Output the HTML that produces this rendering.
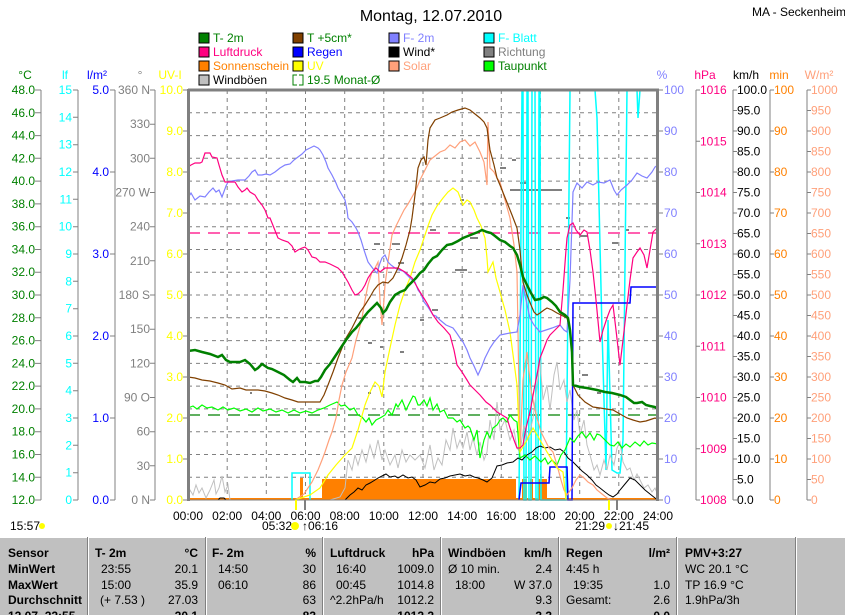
<!DOCTYPE html>
<html><head><meta charset="utf-8"><style>
html,body{margin:0;padding:0;background:#fff;}
svg{display:block;font-family:"Liberation Sans",sans-serif;font-size:12px;}
</style></head><body>
<svg width="845" height="615" viewBox="0 0 845 615" xmlns="http://www.w3.org/2000/svg">
<rect width="845" height="615" fill="#fff"/>
<text x="431" y="21" font-size="16" text-anchor="middle">Montag, 12.07.2010</text>
<text x="752" y="16" font-size="12">MA - Seckenheim</text>
<!-- legend -->
<g font-size="12">
<rect x="199" y="33" width="10" height="10" fill="#008000" stroke="#000"/><text x="213" y="42" fill="#008000">T- 2m</text>
<rect x="293" y="33" width="10" height="10" fill="#804000" stroke="#000"/><text x="307" y="42" fill="#008000">T +5cm*</text>
<rect x="389" y="33" width="10" height="10" fill="#8080ff" stroke="#000"/><text x="403" y="42" fill="#8080ff">F- 2m</text>
<rect x="484" y="33" width="10" height="10" fill="#00ffff" stroke="#000"/><text x="498" y="42" fill="#00ffff">F- Blatt</text>
<rect x="199" y="47" width="10" height="10" fill="#ff0080" stroke="#000"/><text x="213" y="56" fill="#ff0080">Luftdruck</text>
<rect x="293" y="47" width="10" height="10" fill="#0000ff" stroke="#000"/><text x="307" y="56" fill="#0000ff">Regen</text>
<rect x="389" y="47" width="10" height="10" fill="#000" stroke="#000"/><text x="403" y="56" fill="#000">Wind*</text>
<rect x="484" y="47" width="10" height="10" fill="#808080" stroke="#000"/><text x="498" y="56" fill="#808080">Richtung</text>
<rect x="199" y="61" width="10" height="10" fill="#ff8000" stroke="#000"/><text x="213" y="70" fill="#ff8000">Sonnenschein</text>
<rect x="293" y="61" width="10" height="10" fill="#ffff00" stroke="#000"/><text x="307" y="70" fill="#ffff00">UV</text>
<rect x="389" y="61" width="10" height="10" fill="#ffa07a" stroke="#000"/><text x="403" y="70" fill="#ffa07a">Solar</text>
<rect x="484" y="61" width="10" height="10" fill="#00ff00" stroke="#000"/><text x="498" y="70" fill="#008000">Taupunkt</text>
<rect x="199" y="75" width="10" height="10" fill="#c0c0c0" stroke="#000"/><text x="213" y="84" fill="#000">Windböen</text>
<path d="M297 75 H293 V85 H297 M299 75 H303 V85 H299" fill="none" stroke="#008000"/><text x="307" y="84" fill="#008000">19.5 Monat-Ø</text>
</g>
<!-- axis unit labels -->
<g font-size="12">
<text x="25" y="79" text-anchor="middle" fill="#008000">°C</text>
<text x="65" y="79" text-anchor="middle" fill="#00ffff">lf</text>
<text x="97" y="79" text-anchor="middle" fill="#0000ff">l/m²</text>
<text x="140" y="79" text-anchor="middle" fill="#808080">°</text>
<text x="170" y="79" text-anchor="middle" fill="#ffff00">UV-I</text>
<text x="662" y="79" text-anchor="middle" fill="#8080ff">%</text>
<text x="705" y="79" text-anchor="middle" fill="#ff0080">hPa</text>
<text x="746" y="79" text-anchor="middle" fill="#000">km/h</text>
<text x="779" y="79" text-anchor="middle" fill="#ff8000">min</text>
<text x="819" y="79" text-anchor="middle" fill="#ffa07a">W/m²</text>
</g>
<!-- grid -->
<g stroke="#808080" stroke-dasharray="4,4" stroke-width="1">
<path d="M227.2 90V500M266.3 90V500M305.5 90V500M344.7 90V500M383.8 90V500M423 90V500M462.2 90V500M501.3 90V500M540.5 90V500M579.7 90V500M618.8 90V500"/>
<path d="M188 112.8H658M188 135.6H658M188 158.3H658M188 181.1H658M188 203.9H658M188 226.7H658M188 249.5H658M188 272.2H658M188 295H658M188 317.8H658M188 340.6H658M188 363.4H658M188 386.1H658M188 408.9H658M188 431.7H658M188 454.5H658M188 477.3H658"/>
</g>
<!-- axes lines -->
<g stroke="#808080" fill="none">
<path d="M41 90V500M115 90V500M78 90V500M155 90V500M696 90V500M733 90V500M770 90V500M807 90V500"/>
<path d="M35 90h6M35 112.8h6M35 135.6h6M35 158.3h6M35 181.1h6M35 203.9h6M35 226.7h6M35 249.5h6M35 272.2h6M35 295h6M35 317.8h6M35 340.6h6M35 363.4h6M35 386.1h6M35 408.9h6M35 431.7h6M35 454.5h6M35 477.3h6M35 500h6"/>
<path d="M73 90h5M73 117.3h5M73 144.7h5M73 172h5M73 199.3h5M73 226.7h5M73 254h5M73 281.3h5M73 308.7h5M73 336h5M73 363.3h5M73 390.7h5M73 418h5M73 445.3h5M73 472.7h5M73 500h5"/>
<path d="M110 90h5M110 172h5M110 254h5M110 336h5M110 418h5M110 500h5"/>
<path d="M150 90h5M150 124.2h5M150 158.3h5M150 192.5h5M150 226.7h5M150 260.8h5M150 295h5M150 329.2h5M150 363.3h5M150 397.5h5M150 431.7h5M150 465.8h5M150 500h5"/>
<path d="M183 90h5M183 131h5M183 172h5M183 213h5M183 254h5M183 295h5M183 336h5M183 377h5M183 418h5M183 459h5M183 500h5"/>
<path d="M658 90h5M658 131h5M658 172h5M658 213h5M658 254h5M658 295h5M658 336h5M658 377h5M658 418h5M658 459h5M658 500h5"/>
<path d="M696 90h4M696 141.3h4M696 192.5h4M696 243.8h4M696 295h4M696 346.3h4M696 397.5h4M696 448.8h4M696 500h4"/>
<path d="M733 90h4M733 110.5h4M733 131h4M733 151.5h4M733 172h4M733 192.5h4M733 213h4M733 233.5h4M733 254h4M733 274.5h4M733 295h4M733 315.5h4M733 336h4M733 356.5h4M733 377h4M733 397.5h4M733 418h4M733 438.5h4M733 459h4M733 479.5h4M733 500h4"/>
<path d="M770 90h4M770 131h4M770 172h4M770 213h4M770 254h4M770 295h4M770 336h4M770 377h4M770 418h4M770 459h4M770 500h4"/>
<path d="M807 90h4M807 110.5h4M807 131h4M807 151.5h4M807 172h4M807 192.5h4M807 213h4M807 233.5h4M807 254h4M807 274.5h4M807 295h4M807 315.5h4M807 336h4M807 356.5h4M807 377h4M807 397.5h4M807 418h4M807 438.5h4M807 459h4M807 479.5h4M807 500h4"/>
</g>
<!-- left labels -->
<g fill="#008000" text-anchor="end">
<text x="35" y="94">48.0</text><text x="35" y="116.8">46.0</text><text x="35" y="139.6">44.0</text><text x="35" y="162.3">42.0</text><text x="35" y="185.1">40.0</text><text x="35" y="207.9">38.0</text><text x="35" y="230.7">36.0</text><text x="35" y="253.5">34.0</text><text x="35" y="276.2">32.0</text><text x="35" y="299">30.0</text><text x="35" y="321.8">28.0</text><text x="35" y="344.6">26.0</text><text x="35" y="367.4">24.0</text><text x="35" y="390.1">22.0</text><text x="35" y="412.9">20.0</text><text x="35" y="435.7">18.0</text><text x="35" y="458.5">16.0</text><text x="35" y="481.3">14.0</text><text x="35" y="504">12.0</text>
</g>
<g fill="#00ffff" text-anchor="end">
<text x="72" y="94">15</text><text x="72" y="121.3">14</text><text x="72" y="148.7">13</text><text x="72" y="176">12</text><text x="72" y="203.3">11</text><text x="72" y="230.7">10</text><text x="72" y="258">9</text><text x="72" y="285.3">8</text><text x="72" y="312.7">7</text><text x="72" y="340">6</text><text x="72" y="367.3">5</text><text x="72" y="394.7">4</text><text x="72" y="422">3</text><text x="72" y="449.3">2</text><text x="72" y="476.7">1</text><text x="72" y="504">0</text>
</g>
<g fill="#0000ff" text-anchor="end">
<text x="109" y="94">5.0</text><text x="109" y="176">4.0</text><text x="109" y="258">3.0</text><text x="109" y="340">2.0</text><text x="109" y="422">1.0</text><text x="109" y="504">0.0</text>
</g>
<g fill="#808080" text-anchor="end">
<text x="150" y="94">360 N</text><text x="150" y="128.2">330</text><text x="150" y="162.3">300</text><text x="150" y="196.5">270 W</text><text x="150" y="230.7">240</text><text x="150" y="264.8">210</text><text x="150" y="299">180 S</text><text x="150" y="333.2">150</text><text x="150" y="367.3">120</text><text x="150" y="401.5">90 O</text><text x="150" y="435.7">60</text><text x="150" y="469.8">30</text><text x="150" y="504">0 N</text>
</g>
<g fill="#ffff00" text-anchor="end">
<text x="183" y="94">10.0</text><text x="183" y="135">9.0</text><text x="183" y="176">8.0</text><text x="183" y="217">7.0</text><text x="183" y="258">6.0</text><text x="183" y="299">5.0</text><text x="183" y="340">4.0</text><text x="183" y="381">3.0</text><text x="183" y="422">2.0</text><text x="183" y="463">1.0</text><text x="183" y="504">0.0</text>
</g>
<!-- right labels -->
<g fill="#8080ff">
<text x="664" y="94">100</text><text x="664" y="135">90</text><text x="664" y="176">80</text><text x="664" y="217">70</text><text x="664" y="258">60</text><text x="664" y="299">50</text><text x="664" y="340">40</text><text x="664" y="381">30</text><text x="664" y="422">20</text><text x="664" y="463">10</text><text x="664" y="504">0</text>
</g>
<g fill="#ff0080">
<text x="700" y="94">1016</text><text x="700" y="145.3">1015</text><text x="700" y="196.5">1014</text><text x="700" y="247.8">1013</text><text x="700" y="299">1012</text><text x="700" y="350.3">1011</text><text x="700" y="401.5">1010</text><text x="700" y="452.8">1009</text><text x="700" y="504">1008</text>
</g>
<g fill="#000">
<text x="737" y="94">100.0</text><text x="737" y="114.5">95.0</text><text x="737" y="135">90.0</text><text x="737" y="155.5">85.0</text><text x="737" y="176">80.0</text><text x="737" y="196.5">75.0</text><text x="737" y="217">70.0</text><text x="737" y="237.5">65.0</text><text x="737" y="258">60.0</text><text x="737" y="278.5">55.0</text><text x="737" y="299">50.0</text><text x="737" y="319.5">45.0</text><text x="737" y="340">40.0</text><text x="737" y="360.5">35.0</text><text x="737" y="381">30.0</text><text x="737" y="401.5">25.0</text><text x="737" y="422">20.0</text><text x="737" y="442.5">15.0</text><text x="737" y="463">10.0</text><text x="737" y="483.5">5.0</text><text x="737" y="504">0.0</text>
</g>
<g fill="#ff8000">
<text x="774" y="94">100</text><text x="774" y="135">90</text><text x="774" y="176">80</text><text x="774" y="217">70</text><text x="774" y="258">60</text><text x="774" y="299">50</text><text x="774" y="340">40</text><text x="774" y="381">30</text><text x="774" y="422">20</text><text x="774" y="463">10</text><text x="774" y="504">0</text>
</g>
<g fill="#ffa07a">
<text x="811" y="94">1000</text><text x="811" y="114.5">950</text><text x="811" y="135">900</text><text x="811" y="155.5">850</text><text x="811" y="176">800</text><text x="811" y="196.5">750</text><text x="811" y="217">700</text><text x="811" y="237.5">650</text><text x="811" y="258">600</text><text x="811" y="278.5">550</text><text x="811" y="299">500</text><text x="811" y="319.5">450</text><text x="811" y="340">400</text><text x="811" y="360.5">350</text><text x="811" y="381">300</text><text x="811" y="401.5">250</text><text x="811" y="422">200</text><text x="811" y="442.5">150</text><text x="811" y="463">100</text><text x="811" y="483.5">50</text><text x="811" y="504">0</text>
</g>
<!-- sunshine -->
<g fill="#ff8000">
<rect x="322" y="479" width="194" height="21"/>
<rect x="300" y="478" width="3" height="22"/>
<rect x="522" y="479" width="5" height="21"/><rect x="530" y="479" width="3" height="21"/><rect x="538" y="479" width="9" height="21"/>
<rect x="188" y="498" width="470" height="2"/>
</g>
<!-- dashed reference lines -->
<path d="M188 233H658" stroke="#ff0080" stroke-dasharray="12,8" stroke-width="1.3"/>
<path d="M188 415H658" stroke="#008000" stroke-dasharray="12,8" stroke-width="1.3"/>
<!-- Richtung dashes -->
<g stroke="#808080" stroke-width="2">
<path d="M374 244h6M392 244h8M368 343h4M380 347h3M400 352h4M398 263h6M358 318h4M420 320h4M432 310h6M455 270h12M470 238h8M510 190h52M500 168h6M520 183h8M430 230h6M460 200h4M512 160h4M566 218h4M580 236h8M582 375h6M597 393h4M612 243h6M625 230h4M250 393h2M368 393h3"/>
</g>
<!-- cyan F-Blatt -->
<polyline fill="none" stroke="#00ffff" stroke-width="1.5" points="292,500 292,473 310,473 310,500"/>
<polyline fill="none" stroke="#00ffff" stroke-width="1.5" points="519,500 522,90 523,90 524,500 526,500 527,90 528,90 529,500 531,500 532,90 535,90 536,500 538,500 539,90 540,90 541,500 566,500 570,90 595,90 597,118 602,330 606,470 608,320 612,470 617,473 620,473 623,440 627,90 637,90 638,118 640,90 658,90"/>
<!-- gray Windböen -->
<polyline fill="none" stroke="#c0c0c0" stroke-width="1" points="188,500 190,490 193,495 196,485 199,493 202,488 206,498 210,490 214,480 216,494 219,488 222,476 225,492 228,485 230,500 330,500 340,497 345,488 348,460 352,470 355,455 358,465 362,450 366,462 370,445 374,458 378,440 382,460 385,450 390,465 395,455 398,468 402,450 406,462 410,455 415,460 420,455 425,468 430,445 434,470 438,458 442,465 446,440 450,450 453,428 457,448 460,440 463,448 467,432 470,450 473,438 477,455 480,442 484,460 487,452 490,420 494,440 497,402 500,430 505,420 510,440 514,430 517,448 520,452 524,425 528,440 533,418 536,395 540,360 543,400 547,385 550,410 554,375 557,362 560,390 564,380 567,402 570,390 574,420 577,410 580,435 584,420 587,445 590,455 594,470 597,465 600,475 604,460 607,470 610,455 614,465 617,448 620,442 623,462 627,470 630,468 634,480 637,474 640,480 644,488 648,485 652,492 655,488 658,495"/>
<!-- black wind -->
<polyline fill="none" stroke="#000" stroke-width="1" points="188,500 218,500 220,498 224,498 226,500 345,500 350,495 354,492 358,488 362,490 366,485 370,483 375,480 378,478 382,476 386,474 390,477 395,476 398,478 403,475 408,478 412,477 416,480 420,487 425,485 430,482 435,483 440,479 445,478 450,476 455,475 460,474 465,476 470,475 474,477 478,478 483,480 487,482 492,478 497,466 502,465 507,463 513,462 518,458 522,460 527,455 532,452 536,448 540,446 545,448 550,447 555,450 560,449 564,452 568,458 573,462 578,467 582,471 587,475 592,480 596,485 600,488 605,492 609,495 613,497 617,494 620,490 625,484 630,478 635,480 640,485 645,490 650,494 655,498 658,500"/>
<!-- Regen blue -->
<polyline fill="none" stroke="#0000ff" stroke-width="1.5" points="519,500 521,483 549,483 550,467 567,467 568,500 572,500 573,303 630,303 631,287 658,287"/>
<!-- Taupunkt green -->
<polyline fill="none" stroke="#00ff00" stroke-width="1.2" points="188,408 193,406 197,409 202,405 207,408 212,407 218,410 223,407 228,410 234,408 240,411 246,409 252,412 258,408 263,411 270,409 276,412 282,410 288,413 294,410 300,413 306,411 312,413 318,410 324,408 330,405 337,402 341,406 345,405 350,410 354,408 358,415 362,417 366,422 369,418 372,425 376,420 380,418 385,415 388,410 392,415 396,404 398,407 402,400 406,410 410,402 413,396 415,397 418,405 420,405 424,400 427,406 430,398 433,410 437,404 440,412 444,410 448,418 453,418 457,422 460,420 465,428 468,426 470,428 474,440 477,430 480,458 484,440 487,432 490,438 493,428 497,425 500,420 503,418 507,422 510,415 514,420 517,422 520,458 525,455 530,460 535,456 537,458 541,462 545,458 548,464 552,460 557,465 561,455 565,450 570,438 574,442 578,436 582,432 586,438 590,433 594,440 597,434 600,435 605,440 610,445 614,446 618,442 622,448 626,444 630,447 635,442 640,446 644,441 648,445 652,443 658,444"/>
<!-- Solar -->
<polyline fill="none" stroke="#ffa07a" stroke-width="1.2" points="295,500 304,494 312,482 318,470 322,460 325,452 329,440 332,432 336,418 339,400 342,385 346,372 349,365 352,358 356,340 359,330 362,318 365,300 368,285 372,272 375,268 378,262 380,300 382,325 384,300 385,285 388,262 392,235 396,226 400,218 404,210 408,204 412,197 416,190 420,180 425,170 430,160 435,156 440,152 445,150 450,145 455,148 460,142 465,140 470,146 475,142 480,152 484,162 487,185 488,122 490,168 494,172 497,178 500,182 505,200 510,218 514,245 517,272 520,452 523,380 527,352 531,390 534,405 537,418 541,432 545,440 549,448 553,452 557,465 561,480 564,490 567,495 572,488 576,480 580,475 584,478 588,482 593,485 597,490 602,494 607,498 612,500"/>
<!-- UV yellow -->
<polyline fill="none" stroke="#ffff00" stroke-width="1.2" points="295,500 310,495 320,488 328,475 336,465 344,456 352,448 358,430 365,405 370,392 375,382 379,386 382,397 385,372 390,348 395,325 400,305 405,290 410,278 415,262 420,250 424,238 428,226 432,215 437,206 443,198 448,192 453,188 458,192 463,205 467,200 470,202 474,210 477,218 481,226 485,238 487,258 488,272 491,266 493,262 496,278 500,292 505,310 510,332 514,362 517,385 520,452 527,440 533,428 540,440 547,452 552,460 557,468 563,472 566,500"/>
<!-- F-2m -->
<polyline fill="none" stroke="#8080ff" stroke-width="1.2" points="188,198 191,193 195,200 200,196 205,197 209,192 213,188 216,192 219,190 222,197 226,186 228,182 232,181 238,180 245,180 249,176 252,172 255,170 258,175 262,175 266,174 270,175 275,172 280,168 285,165 290,164 294,160 298,157 302,154 306,150 310,148 314,146 318,148 320,150 323,155 326,162 328,168 332,175 336,183 338,188 342,195 345,200 347,210 348,218 352,222 356,228 358,232 361,240 364,250 366,256 368,262 371,266 374,270 377,273 380,263 382,258 385,255 388,262 391,265 395,268 399,270 403,271 405,273 408,276 412,280 415,282 418,290 421,294 424,302 428,307 433,315 436,316 440,320 446,325 453,328 456,332 460,338 463,342 467,350 470,358 474,366 478,375 482,366 485,358 490,348 494,342 500,335 505,334 510,333 517,332 520,315 523,285 526,300 530,318 534,325 540,332 546,330 552,328 560,325 564,330 567,332 570,280 573,192 577,183 582,188 587,182 593,185 598,182 604,183 610,180 614,190 617,195 621,190 627,185 632,180 637,173 642,176 647,178 652,172 655,167 658,165"/>
<!-- Luftdruck -->
<polyline fill="none" stroke="#ff0080" stroke-width="1.2" points="188,167 191,165 195,163 200,163 202,162 205,153 210,153 212,157 217,158 219,165 222,175 225,182 230,182 235,182 238,187 242,192 245,190 247,188 250,192 255,195 258,200 262,205 265,210 268,218 270,218 274,228 278,238 282,240 288,242 292,246 295,252 298,250 302,248 305,247 308,250 312,257 316,258 320,262 325,262 330,264 334,266 338,268 342,272 345,277 348,282 352,290 355,295 358,294 362,290 365,285 368,278 372,272 376,268 380,272 385,268 390,268 398,268 405,272 412,278 416,285 420,292 425,300 428,305 433,315 438,322 444,328 450,335 454,350 457,365 462,372 467,380 470,385 475,390 480,395 486,402 490,405 493,408 497,412 502,415 507,418 510,428 514,440 517,448 520,448 523,445 526,428 530,412 534,390 537,375 540,358 544,348 547,340 550,335 555,330 560,325 563,290 566,250 567,238 570,225 573,223 576,230 580,235 584,230 587,232 590,250 593,272 596,300 600,342 603,330 607,318 610,310 613,305 616,330 620,365 623,340 627,305 630,280 633,258 637,252 640,248 644,255 647,268 650,250 653,232 657,228"/>
<!-- T +5cm -->
<polyline fill="none" stroke="#804000" stroke-width="1.2" points="188,377 195,378 202,380 210,381 218,383 225,385 232,389 240,388 246,390 252,390 258,390 265,391 272,393 278,395 285,398 292,400 298,402 306,402 314,402 320,402 324,395 328,385 333,372 338,358 342,348 346,338 352,328 356,320 360,312 365,305 370,297 374,290 378,285 383,282 388,283 393,278 398,268 402,258 406,245 410,230 412,218 415,195 418,168 421,160 424,157 426,165 428,140 430,128 435,120 440,118 447,115 452,112 458,110 465,108 470,110 475,114 480,118 484,122 487,128 490,150 494,165 497,178 500,185 504,195 508,205 512,215 517,228 520,250 523,282 527,295 531,305 534,312 537,315 540,313 544,310 547,308 552,310 557,313 563,316 567,318 570,330 572,355 573,385 578,395 585,402 593,407 600,408 606,409 613,410 620,414 627,418 633,420 640,422 646,421 652,419 655,418 658,419"/>
<!-- T-2m -->
<polyline fill="none" stroke="#008000" stroke-width="2.5" points="188,351 195,350 202,352 210,354 218,357 222,355 226,360 230,362 236,362 240,362 245,360 250,364 255,370 258,368 262,364 268,368 272,369 278,372 284,375 290,380 293,382 297,378 300,382 305,382 310,383 315,381 318,381 321,377 325,370 330,364 334,358 338,352 342,346 346,340 352,332 356,328 360,323 364,317 368,312 372,308 377,303 381,308 383,313 386,310 390,302 395,295 400,292 405,290 408,286 412,282 416,278 420,273 424,270 428,264 433,258 437,256 442,250 447,245 452,244 458,241 463,238 468,236 473,234 478,232 482,230 487,232 491,233 495,236 500,240 505,242 510,246 513,248 517,255 520,265 523,277 527,285 531,293 535,300 540,299 544,297 547,298 552,302 556,306 560,312 565,315 568,318 570,330 572,352 573,385 580,387 587,388 597,390 605,392 612,393 620,395 626,397 630,400 634,403 637,403 642,402 646,405 650,406 655,407 658,409"/>
<!-- frame -->
<g stroke="#808080" fill="none">
<path d="M188 90H659" stroke-width="3"/>
<path d="M188.5 89V501" stroke-width="3"/>
<path d="M657.5 89V501" stroke-width="3"/>
<path d="M188 500H658" stroke-width="1"/>
<path d="M305 500V510M617 500V510" stroke-width="2"/>
</g>
<path d="M296 500V510M609 500V510" stroke="#ffff00" stroke-width="2"/>
<!-- time labels -->
<g text-anchor="middle" fill="#000">
<text x="188" y="520">00:00</text><text x="227.2" y="520">02:00</text><text x="266.3" y="520">04:00</text><text x="305.5" y="520">06:00</text><text x="344.7" y="520">08:00</text><text x="383.8" y="520">10:00</text><text x="423" y="520">12:00</text><text x="462.2" y="520">14:00</text><text x="501.3" y="520">16:00</text><text x="540.5" y="520">18:00</text><text x="579.7" y="520">20:00</text><text x="618.8" y="520">22:00</text><text x="658" y="520">24:00</text>
</g>
<text x="10" y="530">15:57</text><circle cx="42" cy="526" r="3" fill="#ffff00"/>
<text x="262" y="530">05:32</text><circle cx="295" cy="526" r="4" fill="#ffff00"/><text x="302" y="530" fill="#000">↑06:16</text>
<text x="575" y="530">21:29</text><circle cx="609" cy="526" r="3" fill="#ffff00"/><text x="613" y="530">↓21:45</text>
<!-- table -->
<rect x="0" y="537" width="845" height="78" fill="#c0c0c0"/>
<g stroke="#fff"><path d="M0 537.5H845M88.5 537V615M206.5 537V615M323.5 537V615M441.5 537V615M559.5 537V615M677.5 537V615M796.5 537V615"/></g>
<g stroke="#808080"><path d="M87.5 537V615M205.5 537V615M322.5 537V615M440.5 537V615M558.5 537V615M676.5 537V615M795.5 537V615"/></g>
<g font-size="12" fill="#000">
<g font-weight="bold">
<text x="8" y="557">Sensor</text><text x="8" y="573">MinWert</text><text x="8" y="589">MaxWert</text><text x="8" y="604">Durchschnitt</text><text x="8" y="620">12.07. 22:55</text>
<text x="95" y="557">T- 2m</text><text x="198" y="557" text-anchor="end">°C</text>
<text x="212" y="557">F- 2m</text><text x="316" y="557" text-anchor="end">%</text>
<text x="330" y="557">Luftdruck</text><text x="434" y="557" text-anchor="end">hPa</text>
<text x="448" y="557">Windböen</text><text x="552" y="557" text-anchor="end">km/h</text>
<text x="566" y="557">Regen</text><text x="670" y="557" text-anchor="end">l/m²</text>
<text x="685" y="557">PMV+3:27</text>
<text x="198" y="620" text-anchor="end">20.1</text><text x="316" y="620" text-anchor="end">83</text><text x="434" y="620" text-anchor="end">1012.2</text><text x="552" y="620" text-anchor="end">3.3</text><text x="670" y="620" text-anchor="end">0.0</text>
</g>
<text x="101" y="573">23:55</text><text x="198" y="573" text-anchor="end">20.1</text>
<text x="101" y="589">15:00</text><text x="198" y="589" text-anchor="end">35.9</text>
<text x="100" y="604">(+ 7.53 )</text><text x="198" y="604" text-anchor="end">27.03</text>
<text x="218" y="573">14:50</text><text x="316" y="573" text-anchor="end">30</text>
<text x="218" y="589">06:10</text><text x="316" y="589" text-anchor="end">86</text>
<text x="316" y="604" text-anchor="end">63</text>
<text x="336" y="573">16:40</text><text x="434" y="573" text-anchor="end">1009.0</text>
<text x="336" y="589">00:45</text><text x="434" y="589" text-anchor="end">1014.8</text>
<text x="330" y="604">^2.2hPa/h</text><text x="434" y="604" text-anchor="end">1012.2</text>
<text x="448" y="573">Ø 10 min.</text><text x="552" y="573" text-anchor="end">2.4</text>
<text x="455" y="589">18:00</text><text x="552" y="589" text-anchor="end">W 37.0</text>
<text x="552" y="604" text-anchor="end">9.3</text>
<text x="566" y="573">4:45 h</text>
<text x="573" y="589">19:35</text><text x="670" y="589" text-anchor="end">1.0</text>
<text x="566" y="604">Gesamt:</text><text x="670" y="604" text-anchor="end">2.6</text>
<text x="685" y="573">WC 20.1 °C</text><text x="685" y="589">TP 16.9 °C</text><text x="685" y="604">1.9hPa/3h</text>
</g>
</svg>
</body></html>
